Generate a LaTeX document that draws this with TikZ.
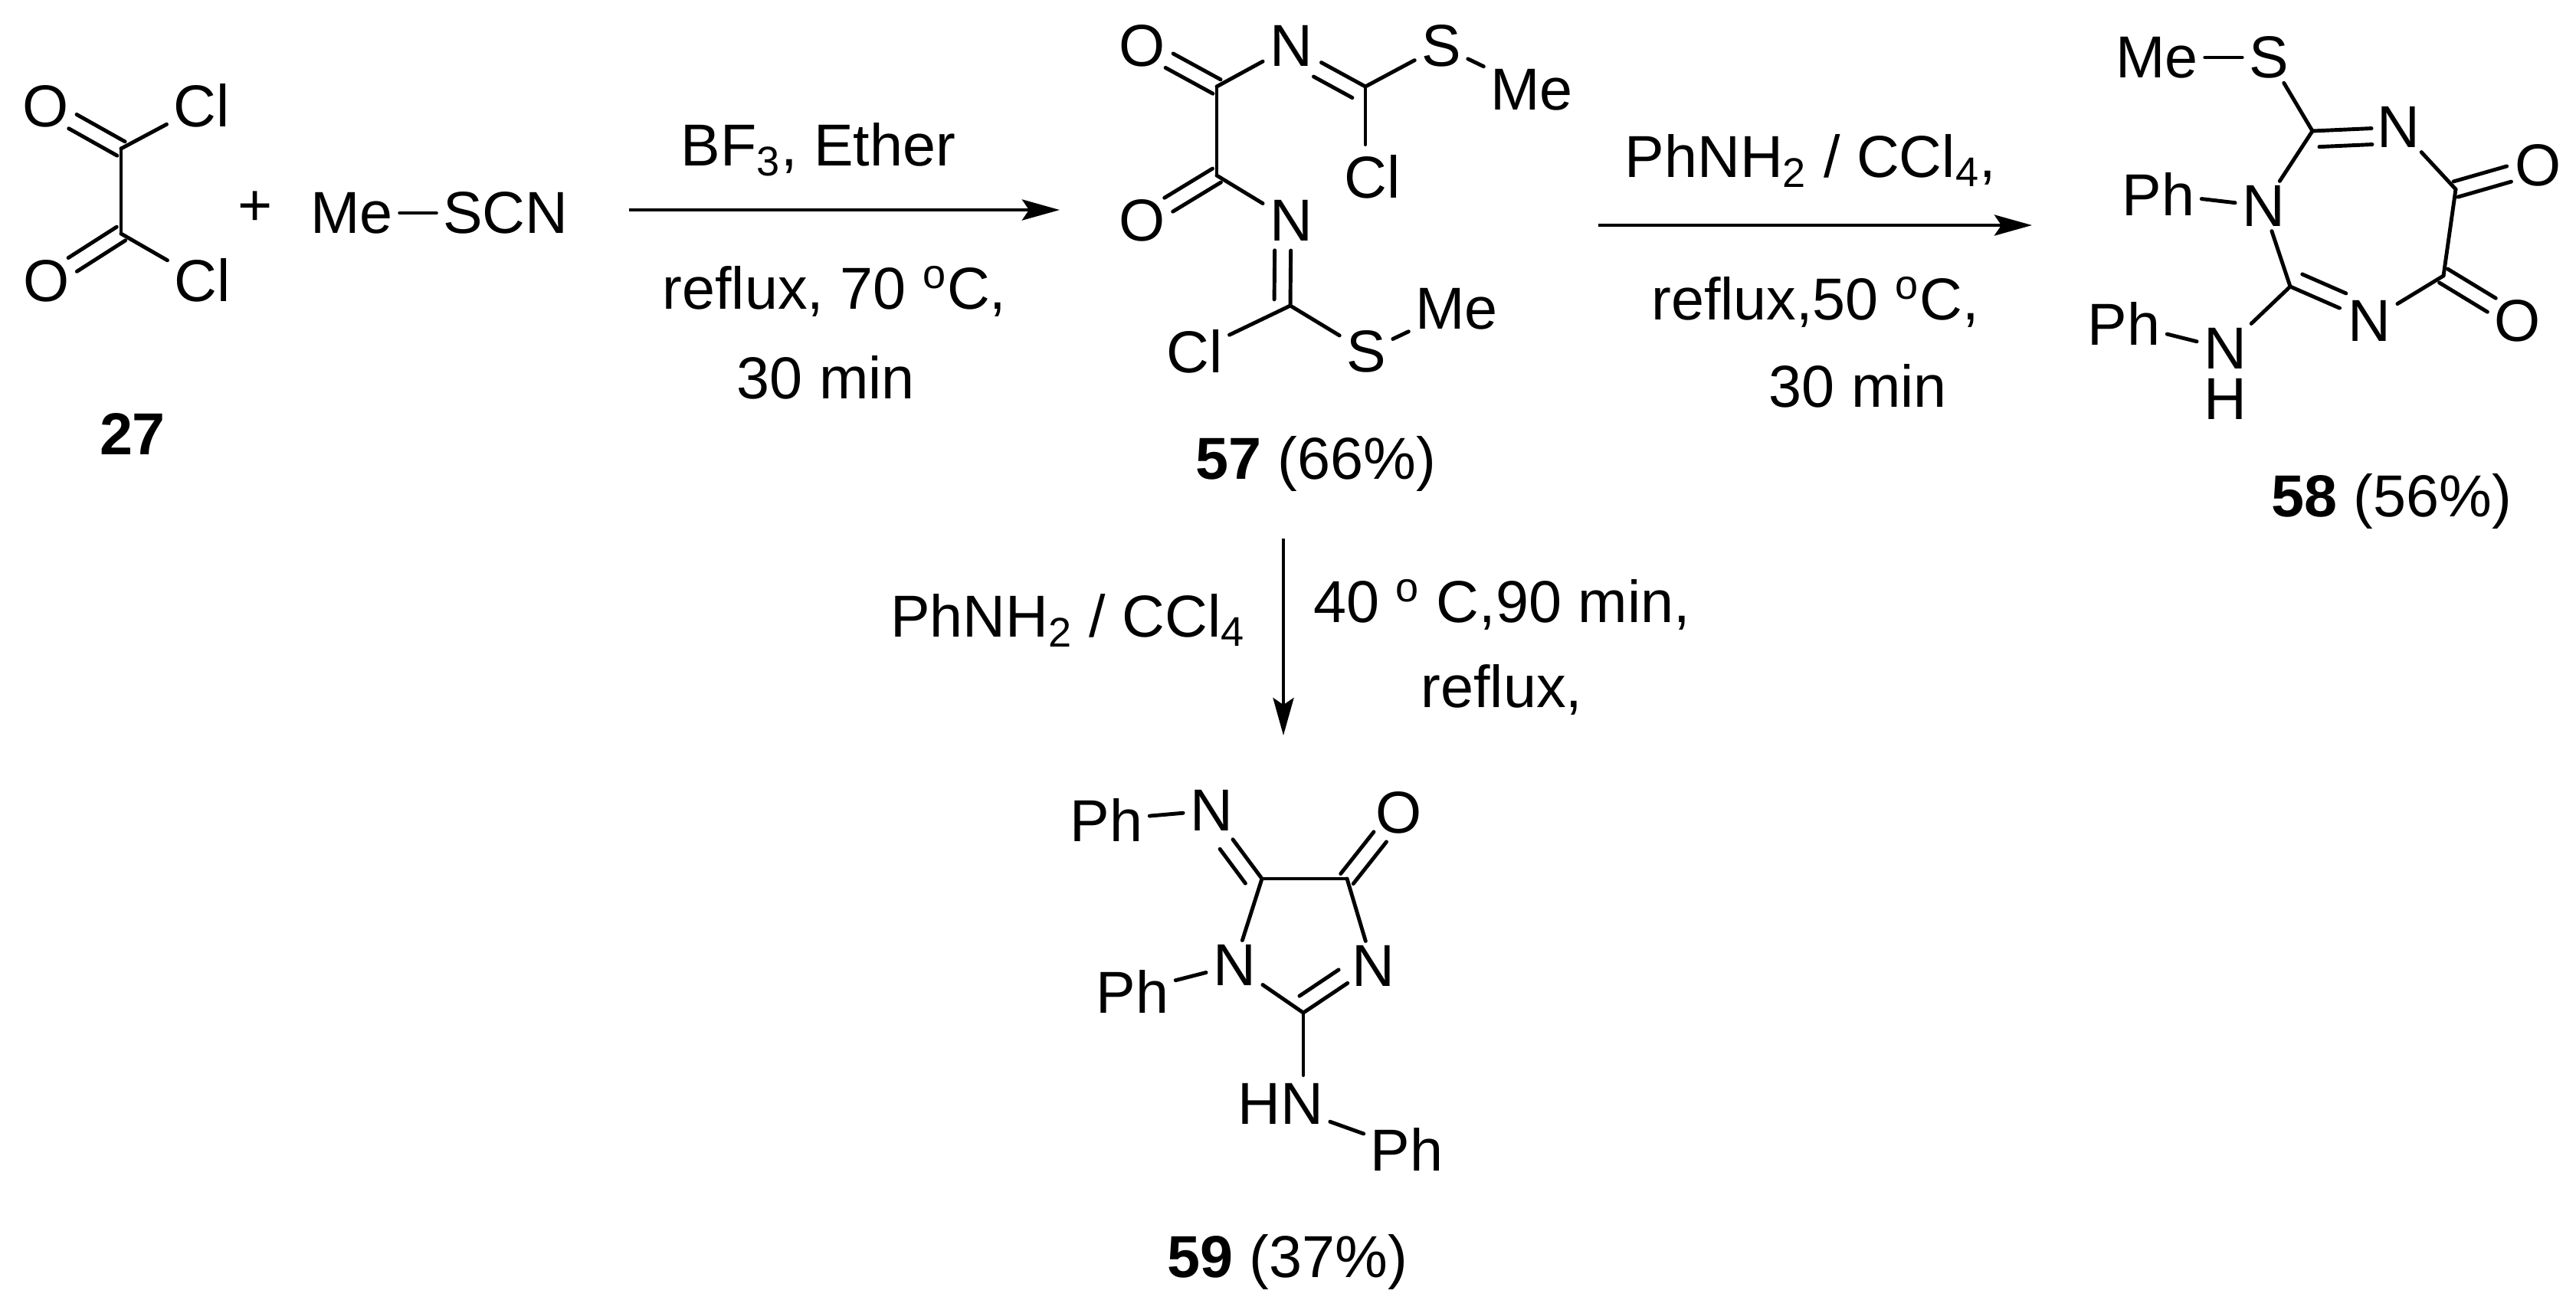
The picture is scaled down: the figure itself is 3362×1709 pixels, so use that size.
\documentclass[tikz,border=0pt]{standalone}
\usepackage{fontspec}
\setmainfont{Liberation Sans}
\usetikzlibrary{calc,arrows.meta}

\tikzset{
  atom/.style={inner sep=0pt,outer xsep=.9mm,outer ysep=.6mm,font=\fontsize{22}{26}\selectfont},
  txt/.style={inner sep=0pt,font=\fontsize{22}{26}\selectfont},
  bond/.style={line width=1.4pt,line cap=round},
  react/.style={line width=1.4pt,-{Stealth[length=4.9mm,width=2.7mm,inset=.9mm]}}
}

% carbon, hetero atom, gap at the hetero atom
\newcommand{\dblsym}[3]{
  \draw[bond,shorten >=#3] ($(#1)!1.05mm!90:(#2)$) -- ($(#2)!1.05mm!-90:(#1)$);
  \draw[bond,shorten >=#3] ($(#1)!1.05mm!-90:(#2)$) -- ($(#2)!1.05mm!90:(#1)$);
}
% carbon, hetero atom, side of the second line, gap at the hetero atom
\newcommand{\dblside}[4]{
  \draw[bond,shorten >=#4] (#1.center) -- (#2.center);
  \draw[bond,shorten <=.8mm,shorten >=#4] ($(#1)!2.1mm!#3:(#2)$) -- ($(#2)!2.1mm!-#3:(#1)$);
}

\begin{document}
\begin{tikzpicture}[x=.1mm,y=-.1mm]
\useasboundingbox (0,0) rectangle (3362,1709);

% oxalyl chloride and thiocyanate
\foreach \name/\element/\x/\y in {oa/O/60/139,cla/Cl/263/138,ob/O/61/367,clb/Cl/264/366,
    mea/Me/459/278,scn/SCN/660/278}
  \node[atom] (\name) at (\x,\y) {\element};
\coordinate (ca) at (158,194);
\coordinate (cb) at (158,305);
\node[txt] (plus) at (333,272) {+};
\node[txt] (n27) at (173,566) {\textbf{27}};
\dblsym{ca}{oa}{4mm}
\dblsym{cb}{ob}{4mm}
\foreach \a/\b in {ca/cb,ca/cla,cb/clb,mea/scn}
  \draw[bond] (\a) -- (\b);

% compound 57
\foreach \name/\element/\x/\y in {od/O/1491/60,na/N/1685/60,sa/S/1881/60,meb/Me/1999/117,
    clc/Cl/1791/231,oe/O/1491/288,nb/N/1685/288,cld/Cl/1559/459,sb/S/1783/459,mec/Me/1901/403}
  \node[atom] (\name) at (\x,\y) {\element};
\foreach \name/\x/\y in {cd/1588/113,ce/1782/113,cf/1588/229,cg/1684/399}
  \coordinate (\name) at (\x,\y);
\node[txt] (n57) at (1717,605) {\textbf{57} (66\%)};
\dblsym{cd}{od}{4mm}
\dblsym{cf}{oe}{4mm}
\dblside{ce}{na}{90}{4.5mm}
\dblside{cg}{nb}{90}{3.9mm}
\foreach \a/\b in {cd/cf,cd/na,ce/sa,sa/meb,cf/nb,cg/cld,cg/sb,sb/mec}
  \draw[bond] (\a) -- (\b);
\draw[bond,shorten >=.8mm] (ce) -- (ce |- clc.north);

% compound 58
\foreach \name/\element/\x/\y in {mee/Me/2815/75,sc/S/2961/75,nc/N/3130/166,of/O/3313/216,
    og/O/3286/419,nd/N/3092/419,ne/N/2954/269,pha/Ph/2817/253,nf/N/2904/455,ha/H/2904/521,
    phb/Ph/2772/422}
  \node[atom] (\name) at (\x,\y) {\element};
\foreach \name/\x/\y in {ch/3018/171,ci/3205/247,cj/3189/360,ck/2989/374}
  \coordinate (\name) at (\x,\y);
\node[txt] (n58) at (3121,654) {\textbf{58} (56\%)};
\dblsym{ci}{of}{4mm}
\dblsym{cj}{og}{4mm}
\dblside{ch}{nc}{-90}{3.5mm}
\dblside{ck}{nd}{90}{4.2mm}
\foreach \a/\b in {mee/sc,sc/ch,ch/ne,ne/pha,ne/ck,ck/nf,nf/phb,nc/ci,ci/cj,cj/nd}
  \draw[bond] (\a) -- (\b);

% compound 59
\foreach \name/\element/\x/\y in {phc/Ph/1444/1070,ng/N/1581/1058,oh/O/1826/1061,nh/N/1611/1260,
    ni/N/1792/1261,phd/Ph/1478/1294,hn/HN/1671/1441,phe/Ph/1836/1500}
  \node[atom] (\name) at (\x,\y) {\element};
\foreach \name/\x/\y in {cl/1647/1147,cm/1758/1147,cn/1701/1322}
  \coordinate (\name) at (\x,\y);
\node[txt] (n59) at (1680,1647) {\textbf{59} (37\%)};
\dblsym{cm}{oh}{4mm}
\dblside{cl}{ng}{90}{4.7mm}
\dblside{cn}{ni}{90}{4mm}
\foreach \a/\b in {phc/ng,cl/cm,cl/nh,cm/ni,nh/cn,nh/phd,hn/phe}
  \draw[bond] (\a) -- (\b);
\draw[bond,shorten >=.5mm] (cn) -- (cn |- hn.north);

% reaction arrows
\foreach \name/\xa/\ya/\xb/\yb in {ra/821/274/1383/274,rb/2086/294/2652/294,rc/1675/703/1675/960}{
  \coordinate (\name s) at (\xa,\ya);
  \coordinate (\name e) at (\xb,\yb);
  \draw[react] (\name s) -- (\name e);
}
\node[txt] (ta) at (1068,195) {BF\textsubscript{3}, Ether};
\node[txt] (tb) at (1089,380) {reflux, 70 \textsuperscript{o}C,};
\node[txt] (tc) at (1078,493) {30 min};
\node[txt] (td) at (2363,210) {PhNH\textsubscript{2} / CCl\textsubscript{4},};
\node[txt] (te) at (2369,394) {reflux,50 \textsuperscript{o}C,};
\node[txt] (tf) at (2425,504) {30 min};
\node[txt] (tg) at (1394,810) {PhNH\textsubscript{2} / CCl\textsubscript{4}};
\node[txt] (th) at (1960,789) {40 \textsuperscript{o} C,90 min,};
\node[txt] (ti) at (1960,900) {reflux,};

\end{tikzpicture}
\end{document}
